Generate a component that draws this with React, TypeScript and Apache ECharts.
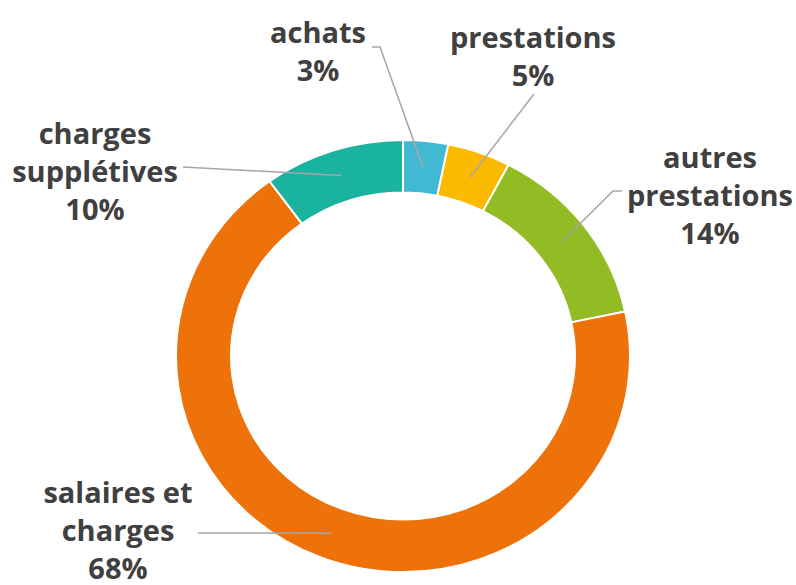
import React, { useEffect, useRef } from "react";
import * as echarts from "echarts";

const categories = ["achats", "prestations", "autres\nprestations", "salaires et\ncharges", "charges\nsupplétives"];
const values = [3.2, 4.5, 14.0, 68.3, 10.0];
const colors = ["#41B9D3", "#FBBA00", "#92BC23", "#EE720A", "#1AB39F"];
// label anchor (centre of text block) and leader-line start
const labelPos: [number, number][] = [[318, 50], [533, 55], [710, 194], [118, 529], [95, 170]];
const lineStart: [number, number][][] = [
  [[372, 47], [380, 47]],
  [[534, 94], [534, 94]],
  [[622, 191], [613, 191]],
  [[198, 533], [198, 533]],
  [[183, 167], [183, 167]],
];

const CX = 403, CY = 356, R_IN = 172, R_OUT = 227;
const SCALE_Y = 216 / 227; // the reference ring is slightly flattened

export default function App() {
  const ringRef = useRef<HTMLDivElement>(null);
  const labelRef = useRef<HTMLDivElement>(null);
  useEffect(() => {
    if (!ringRef.current || !labelRef.current) return;
    const ring = echarts.init(ringRef.current, undefined, { renderer: "svg" });
    const labels = echarts.init(labelRef.current, undefined, { renderer: "svg" });
    const total = values.reduce((a, b) => a + b, 0);
    const mids: [number, number][] = [];
    let acc = 0;
    const rMid = (R_IN + R_OUT) / 2;
    values.forEach((v) => {
      const a = ((acc + v / 2) / total) * Math.PI * 2;
      mids.push([CX + rMid * Math.sin(a), CY - rMid * SCALE_Y * Math.cos(a)]);
      acc += v;
    });
    const data = categories.map((c, i) => ({ name: c, value: values[i], itemStyle: { color: colors[i] } }));
    ring.setOption({
      animation: false,
      series: [
        {
          type: "pie",
          center: [CX, CY],
          radius: [R_IN, R_OUT],
          startAngle: 90,
          clockwise: true,
          itemStyle: { borderColor: "#ffffff", borderWidth: 2 },
          label: { show: false },
          labelLine: { show: false },
          emphasis: { disabled: true },
          silent: true,
          data,
        },
      ],
    });
    labels.setOption({
      animation: false,
      graphic: values.map((_, i) => ({
        type: "polyline",
        z: 100,
        silent: true,
        shape: { points: [lineStart[i][0], lineStart[i][1], mids[i]] },
        style: { stroke: "#A6A6A6", lineWidth: 1.5, fill: null },
      })),
      series: [
        {
          type: "pie",
          center: [CX, CY],
          radius: [R_IN, R_OUT],
          startAngle: 90,
          clockwise: true,
          itemStyle: { color: "rgba(0,0,0,0)", borderWidth: 0 },
          label: {
            show: true,
            formatter: (p: any) => `${p.name}\n${Math.round((p.value / total) * 100)}%`,
            fontFamily: "Open Sans",
            fontWeight: "bold",
            fontSize: 29,
            lineHeight: 38,
            color: "#404040",
            align: "center",
            overflow: "none",
          },
          labelLine: { show: false },
          labelLayout: (params: any) => {
            const i = params.dataIndex;
            return {
              x: labelPos[i][0],
              y: labelPos[i][1],
              align: "center",
              verticalAlign: "middle",
            };
          },
          emphasis: { disabled: true },
          silent: true,
          data: categories.map((c, i) => ({ name: c, value: values[i] })),
        },
      ],
    });
    return () => {
      ring.dispose();
      labels.dispose();
    };
  }, []);
  return (
    <div style={{ position: "fixed", left: 0, top: 0, width: 796, height: 585, background: "#ffffff" }}>
      <div
        ref={ringRef}
        style={{
          position: "absolute",
          left: 0,
          top: 0,
          width: 796,
          height: 585,
          transform: `scaleY(${SCALE_Y})`,
          transformOrigin: `${CX}px ${CY}px`,
        }}
      />
      <div ref={labelRef} style={{ position: "absolute", left: 0, top: 0, width: 796, height: 585 }} />
    </div>
  );
}
